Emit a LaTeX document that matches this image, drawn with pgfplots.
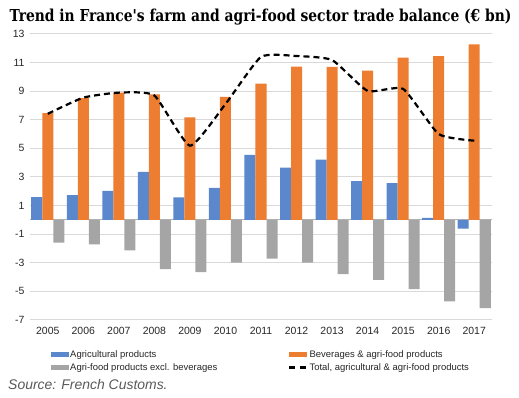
\documentclass[border=0pt]{standalone}
\usepackage{fontspec}
\setmainfont{Liberation Sans}
\newfontfamily\titlefont{DejaVu Serif}
\usepackage{graphicx}
\usepackage{pgfplots}
\pgfplotsset{compat=1.18}
\definecolor{cblue}{HTML}{5B87CD}
\definecolor{corange}{HTML}{ED7D31}
\definecolor{cgray}{HTML}{A5A5A5}
\definecolor{cgrid}{HTML}{D9D9D9}
\begin{document}
\begin{tikzpicture}
\useasboundingbox (0,0) rectangle (519bp,398bp);
\begin{axis}[
  at={(30bp,78bp)}, anchor=south west,
  scale only axis, width=462bp, height=286bp,
  xmin=-0.5, xmax=12.5, ymin=-7, ymax=13,
  xtick={0,1,2,3,4,5,6,7,8,9,10,11,12},
  xticklabels={2005,2006,2007,2008,2009,2010,2011,2012,2013,2014,2015,2016,2017},
  ytick={-7,-5,-3,-1,1,3,5,7,9,11,13},
  ymajorgrids, grid style={cgrid, line width=1bp},
  axis x line=bottom, axis y line=left, axis line style={draw=none},
  major tick length=0pt,
  tick label style={font=\fontsize{10.5}{12}\selectfont, text=black!85},
  /pgf/number format/assume math mode=true,
  yticklabel style={xshift=-2bp},
  xticklabel style={yshift=-4bp},
  extra y ticks={0}, extra y tick labels={},
  extra y tick style={grid style={color=black!30, line width=1bp}},
  legend columns=2,
  legend cell align=left,
  legend style={at={(0.0455,-0.102)}, anchor=north west, draw=none, fill=none,
    inner sep=0pt, font=\fontsize{9.5}{11}\selectfont, text=black!85,
    nodes={inner sep=1bp}, row sep=2.5bp,
    /tikz/every even column/.append style={column sep=70bp}},
]
\addplot[ybar, bar width=0.31, bar shift=-0.31, fill=cblue, draw=none,
  legend image code/.code={\fill[cblue] (0bp,-2.5bp) rectangle (18bp,2.5bp);}]
  coordinates {(0,1.60) (1,1.73) (2,2.03) (3,3.36) (4,1.57) (5,2.24) (6,4.54) (7,3.66) (8,4.22) (9,2.71) (10,2.57) (11,0.15) (12,-0.61)};
\addplot[ybar, bar width=0.31, bar shift=0, fill=corange, draw=none,
  legend image code/.code={\fill[corange] (0bp,-2.5bp) rectangle (18bp,2.5bp);}]
  coordinates {(0,7.47) (1,8.51) (2,8.90) (3,8.77) (4,7.17) (5,8.60) (6,9.53) (7,10.72) (8,10.70) (9,10.44) (10,11.35) (11,11.46) (12,12.28)};
\addplot[ybar, bar width=0.31, bar shift=0.31, fill=cgray, draw=none,
  legend image code/.code={\fill[cgray] (0bp,-2.5bp) rectangle (18bp,2.5bp);}]
  coordinates {(0,-1.59) (1,-1.71) (2,-2.13) (3,-3.45) (4,-3.66) (5,-2.98) (6,-2.71) (7,-2.98) (8,-3.80) (9,-4.19) (10,-4.84) (11,-5.70) (12,-6.17)};
\addplot[black, line width=2.2bp, dash pattern=on 6bp off 4bp, smooth, tension=0.3,
  legend image code/.code={\draw[black, line width=2.2bp, dash pattern=on 6bp off 5bp] (0bp,0bp) -- (18bp,0bp);}]
  coordinates {(0,7.42) (1,8.55) (2,8.90) (3,8.70) (4,5.19) (5,8.10) (6,11.40) (7,11.46) (8,11.18) (9,9.02) (10,9.16) (11,6.00) (12,5.54)};
\legend{Agricultural products, Beverages \& agri-food products, Agri-food products excl. beverages, {Total, agricultural \& agri-food products}}
\end{axis}
\node[anchor=base, inner sep=0pt] at (260.5bp,376bp) {\resizebox{502bp}{\height}{\titlefont\bfseries\fontsize{16.5}{18}\selectfont Trend in France's farm and agri-food sector trade balance (€ bn)}};
\node[anchor=base west, inner sep=0pt] at (8bp,8.7bp) {\fontsize{14}{16}\selectfont\itshape\color{black!65}Source: French Customs.};
\end{tikzpicture}
\end{document}
